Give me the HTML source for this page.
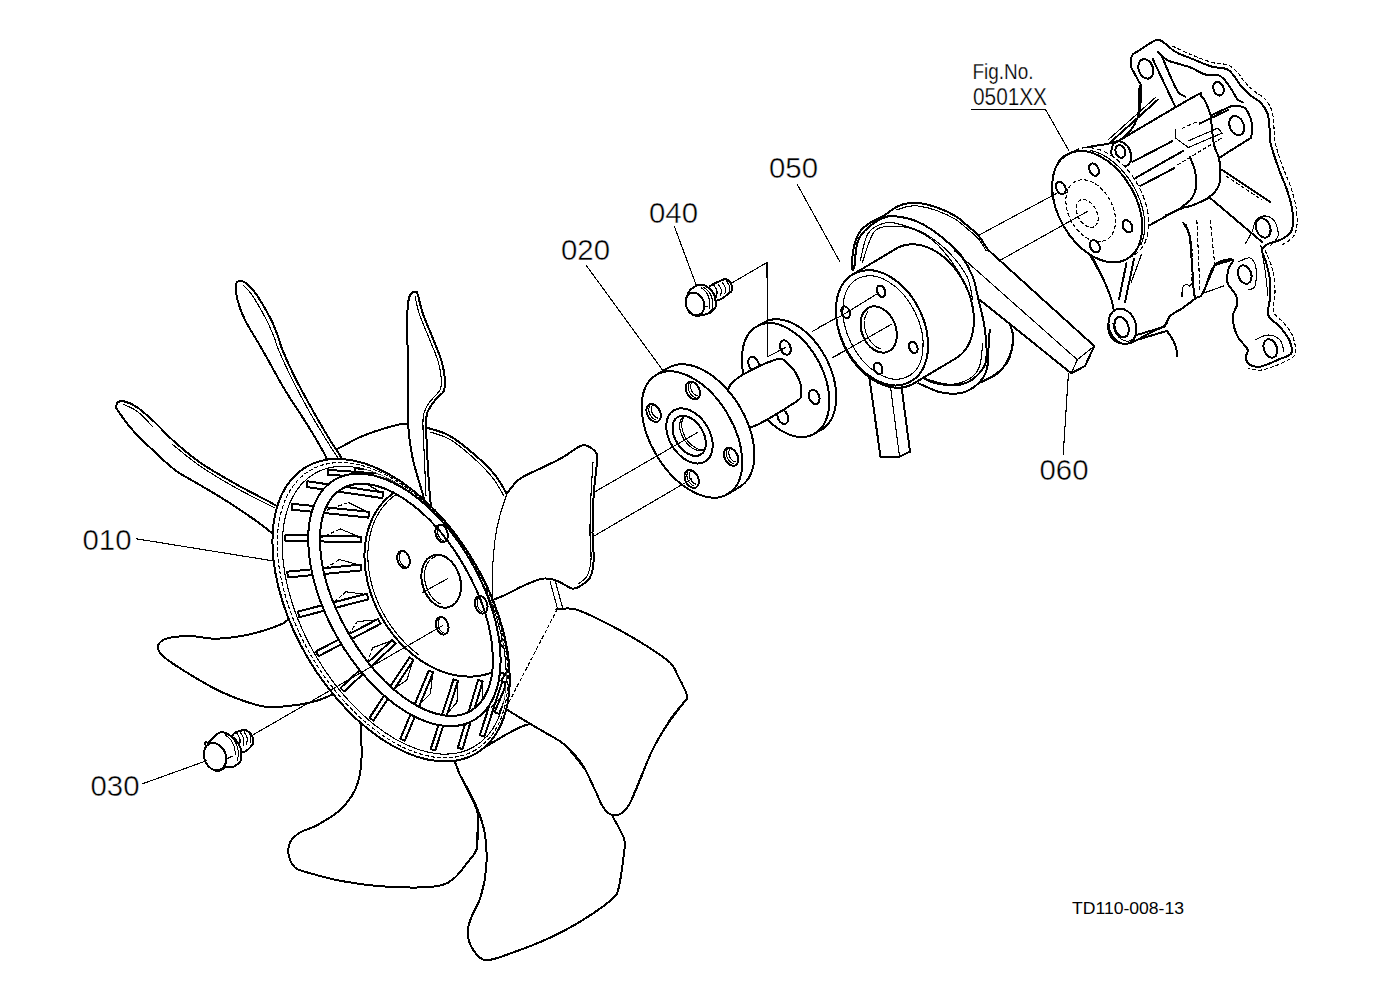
<!DOCTYPE html>
<html><head><meta charset="utf-8"><style>
html,body{margin:0;padding:0;background:#fff;width:1379px;height:1001px;overflow:hidden}
svg{display:block}
text{font-family:"Liberation Sans",sans-serif;fill:#000;stroke:#fff;stroke-width:0.45}
.l{fill:none;stroke:#000;stroke-width:2;stroke-linejoin:round;stroke-linecap:round}
.lw{fill:#fff;stroke:#000;stroke-width:2;stroke-linejoin:round;stroke-linecap:round}
.w{fill:#fff;stroke:none}
.t{fill:none;stroke:#000;stroke-width:1.1;stroke-linecap:round}
.dw{fill:#fff;stroke:#000;stroke-width:1.2;stroke-dasharray:5 2.5}
.d{fill:none;stroke:#000;stroke-width:1.1;stroke-dasharray:4 2}
</style></head><body>
<svg shape-rendering="crispEdges" width="1379" height="1001" viewBox="0 0 1379 1001">
<g id="pump">
<path class="lw" d="M1138.3 50.9C1142.2 48.3 1151.3 42 1155.2 40.4C1159.1 38.8 1159 39.6 1161.8 41.1C1164.6 42.6 1169.4 47.5 1172.2 49.6C1175 51.7 1175.4 52 1178.7 53.5C1182 55 1186.3 56.5 1191.8 58.7C1197.2 60.9 1205.5 64.8 1211.4 66.5C1217.3 68.2 1223.1 67.5 1227 69.2C1230.9 71 1232.7 74.4 1234.9 77C1237.1 79.6 1237.5 81.8 1240.1 84.8C1242.7 87.8 1247 92.2 1250.5 95.3C1254 98.3 1258.2 100.1 1261 103.1C1263.8 106.1 1266.1 109.4 1267.5 113.5C1268.9 117.6 1269.1 123.3 1269.5 127.9C1269.9 132.5 1269.3 136.5 1270.1 141C1270.8 145.5 1272.3 149.8 1274 155C1275.7 160.2 1277.8 166.2 1280 172C1282.2 177.8 1285 184 1287 190C1289 196 1291 202.3 1292 208C1293 213.7 1293.3 219.8 1293 224C1292.7 228.2 1292.2 230.3 1290 233C1287.8 235.7 1283.7 238.2 1280 240C1276.3 241.8 1271 242.3 1268 244C1265 245.7 1262.3 247 1262 250C1261.7 253 1264.7 257 1266 262C1267.3 267 1269.3 274.3 1270 280C1270.7 285.7 1270.6 290.4 1270.3 296.3C1270 302.2 1266.8 310.2 1268.4 315.3C1270 320.4 1276.3 322.6 1279.8 326.7C1283.3 330.8 1287.4 335.6 1289.3 340C1291.2 344.4 1292.8 350.1 1291.2 353.3C1289.6 356.5 1284.9 356.8 1279.8 359C1274.7 361.2 1265.8 365.6 1260.8 366.5C1255.8 367.4 1252 366.2 1249.5 364.6C1247 363 1246 359.5 1245.7 357C1245.4 354.5 1248.8 352.6 1247.6 349.5C1246.4 346.4 1241 342 1238.8 338.4C1236.6 334.8 1235.3 331.6 1234.3 327.9C1233.3 324.1 1232.3 319.9 1232.8 315.9C1233.3 311.9 1236.8 307.4 1237.3 303.9C1237.8 300.4 1237.4 298.4 1235.8 294.9C1234.2 291.4 1228.8 287.1 1227.6 282.9C1226.3 278.6 1227.4 273.3 1228.3 269.4C1229.2 265.5 1235 260.4 1232.8 259.7C1230.5 259 1219.8 259.4 1214.8 265C1209.8 270.6 1205.9 287.9 1202.8 293.4C1199.7 298.9 1199.5 295.5 1196 298C1192.5 300.5 1186.3 305.4 1182 308.4C1177.7 311.4 1172.8 313.2 1170 316C1167.2 318.8 1168.7 322.1 1165.4 324.9C1162.1 327.7 1154.7 330.5 1150 333C1145.3 335.5 1140.7 338.2 1137 340C1133.3 341.8 1131.7 343.4 1128 343.6C1124.3 343.8 1118.2 343.3 1115 341C1111.8 338.7 1109.3 334.3 1108.5 330C1107.7 325.7 1109.1 318.3 1110 315C1110.9 311.7 1114.2 314.6 1113.7 310C1113.2 305.4 1110.3 295.4 1107 287.4C1103.7 279.4 1098.5 269.9 1094 262C1089.5 254.1 1085.7 247.8 1080 240C1074.3 232.2 1064.7 223.3 1060 215C1055.3 206.7 1052 199.2 1052 190C1052 180.8 1054.5 167 1060 160C1065.5 153 1075 151.3 1085 148C1095 144.7 1111.2 145.2 1120 140C1128.8 134.8 1134.5 125.8 1138 117C1141.5 108.2 1140.9 93.4 1140.9 87.4C1141 81.4 1139.4 83.3 1138.3 80.9C1137.2 78.5 1135.6 75.5 1134.4 73.1C1133.2 70.7 1131.5 69.3 1131.1 66.5C1130.6 63.7 1130.5 58.7 1131.7 56.1C1132.9 53.5 1134.4 53.5 1138.3 50.9Z"/>
<path class="d" d="M1172.2 46C1175.5 47.5 1185.4 52.2 1192 55C1198.6 57.8 1206 60.8 1212 62.5C1218 64.2 1223.7 63.2 1228 65C1232.3 66.8 1235.3 70.3 1238 73C1240.7 75.7 1241.3 78 1244 81C1246.7 84 1250.5 88 1254 91C1257.5 94 1262 95.7 1265 99C1268 102.3 1270.5 106.2 1272 111C1273.5 115.8 1273.5 123 1274 128C1274.5 133 1274.3 136.8 1275 141C1275.7 145.2 1276.5 148.2 1278 153C1279.5 157.8 1281.8 164.2 1284 170C1286.2 175.8 1289 181.8 1291 188C1293 194.2 1295 200.8 1296 207C1297 213.2 1297.5 220 1297 225C1296.5 230 1295.5 233.7 1293 237C1290.5 240.3 1283.8 243.7 1282 245"/>
<path class="d" d="M1265 250C1266.2 253 1270.3 261.3 1272 268C1273.7 274.7 1274.7 282.7 1275 290C1275.3 297.3 1272.5 306.5 1274 312C1275.5 317.5 1280.8 318.8 1284 323C1287.2 327.2 1291.2 331.8 1293 337C1294.8 342.2 1296.5 349.8 1295 354C1293.5 358.2 1289.5 359.3 1284 362C1278.5 364.7 1268 369 1262 370C1256 371 1250.3 368.3 1248 368"/>
<path class="l" d="M1157.9 51.5C1159.4 52.9 1163.5 57.9 1167 60C1170.5 62.1 1174.6 62.6 1178.7 63.9C1182.8 65.2 1187.5 66.2 1191.8 67.9C1196.1 69.7 1200.4 73.2 1204.8 74.4C1209.2 75.6 1214.6 74.1 1217.9 75C1221.2 75.9 1222.2 77.3 1224.4 79.6C1226.6 81.9 1228.8 85.4 1231 88.7C1233.2 92 1235.5 96.9 1237.5 99.2C1239.5 101.5 1241.8 101.9 1242.7 102.4"/>
<path class="l" d="M1152.6 58.7 L1174.8 105.7"/>
<path class="l" d="M1161.8 56.1C1163.5 60.1 1169.2 73.9 1172 80C1174.8 86.1 1176.5 89.9 1178.7 92.7C1180.9 95.5 1184.2 95.9 1185.3 96.6"/>
<path class="l" d="M1138.3 117.5 L1139.6 86.1"/>
<ellipse class="l" cx="1145.8" cy="68.9" rx="10" ry="7.2" transform="rotate(70 1145.8 68.9)"/>
<ellipse class="l" cx="1218.5" cy="88.7" rx="7" ry="5" transform="rotate(70 1218.5 88.7)"/>
<path class="w" d="M1118 141.2 L1193.1 97.2 L1201 96.4 L1206 102.8 L1210.7 115.6 L1231.5 106 L1244.3 107.6 L1250.7 118.8 L1252.3 130 L1250.7 138 L1220.3 157.1 L1220.3 169.9 L1218.7 185.9 L1209.1 197.1 L1193.1 205.1 L1180.3 208.3 L1148.4 225.9 L1135 232Z"/>
<path class="l" d="M1118 141.2C1130.5 133.9 1179.3 104.7 1193.1 97.2C1206.9 89.7 1198.8 95.5 1201 96.4C1203.2 97.3 1204.4 99.6 1206 102.8C1207.6 106 1209.9 113.5 1210.7 115.6"/>
<path class="l" d="M1210.7 115.6 L1231.5 106"/>
<path class="l" d="M1231.5 106C1233.6 106.3 1241.1 105.5 1244.3 107.6C1247.5 109.7 1249.4 115.1 1250.7 118.8C1252 122.5 1252.3 126.8 1252.3 130C1252.3 133.2 1251 136.7 1250.7 138"/>
<path class="l" d="M1250.7 138 L1220.3 157.1"/>
<path class="l" d="M1210.7 115.6C1211.2 120.4 1212.6 137.4 1213.9 144.3C1215.2 151.2 1217.6 152.8 1218.7 157.1C1219.8 161.4 1220.3 165.1 1220.3 169.9C1220.3 174.7 1220.6 181.4 1218.7 185.9C1216.8 190.4 1213.4 193.9 1209.1 197.1C1204.8 200.3 1197.9 203.2 1193.1 205.1C1188.3 207 1182.4 207.8 1180.3 208.3"/>
<path class="l" d="M1189.9 157.1C1190.7 159.2 1193.6 165.1 1194.7 169.9C1195.8 174.7 1196.8 181.1 1196.3 185.9C1195.8 190.7 1193.9 195.2 1191.5 198.7C1189.1 202.2 1183.5 205.4 1181.9 206.7"/>
<path class="l" d="M1180.3 208.3 L1148.4 225.9"/>
<path class="t" d="M1166 214.7 L1209.1 198.7"/>
<ellipse class="l" cx="1236.7" cy="125.6" rx="10" ry="7" transform="rotate(68 1236.7 125.6)"/>
<path class="l" d="M1132.4 161.9 L1172.3 141.2"/>
<path class="l" d="M1135.6 177.9 L1183.5 150.7"/>
<path class="l" d="M1140.4 185.9 L1173.9 168.3"/>
<path class="d" d="M1177.1 165.1 L1221.9 138"/>
<path class="d" d="M1181.9 128.4 L1196.3 122"/>
<path class="l" d="M1199.5 123.6 L1228 110"/>
<path class="t" d="M1175.5 130 L1175.5 138 L1188.3 147.5 L1221.9 133.2 L1218 128 L1188 141"/>
<path class="l" d="M1221.9 169.9 L1270 201.9"/>
<path class="l" d="M1209.1 197.1 L1261.9 241.9"/>
<path class="d" d="M1226 176 L1262 200"/>
<path class="l" d="M1110 142.7 L1158 99.6"/>
<path class="t" d="M1108 140 L1156 97"/>
<ellipse class="lw" cx="1121.2" cy="154" rx="13" ry="9.5" transform="rotate(70 1121.2 154)"/>
<ellipse class="l" cx="1120.4" cy="151.5" rx="6.5" ry="4.8" transform="rotate(70 1120.4 151.5)"/>
<path class="l" d="M1183.4 223C1184.4 225 1188 228 1189.4 235C1190.8 242 1191.2 255 1192 265C1192.8 275 1193.6 290 1193.9 295"/>
<path class="d" d="M1186 224C1186.8 226.7 1189.9 233.2 1191 240C1192.1 246.8 1192.5 257.3 1192.5 265C1192.5 272.7 1191.2 282.5 1190.9 286"/>
<path class="l" d="M1193.9 295C1194 295.7 1196.6 296.8 1194.6 299C1192.6 301.2 1186.1 305.6 1182 308.4C1177.9 311.2 1172.8 313.2 1170 316C1167.2 318.8 1166.2 323.4 1165.4 324.9"/>
<path class="t" d="M1182 296.4C1182.1 295 1181.8 290 1182.5 288C1183.2 286 1184.8 284.7 1186 284.4C1187.2 284.1 1188.8 285.7 1189.4 286"/>
<path class="d" d="M1196.9 220 L1199.9 290.4"/>
<path class="d" d="M1210.3 220 L1214.8 265"/>
<path class="l" d="M1202.8 293.4 L1214.8 265 L1232.8 259.7"/>
<path class="t" d="M1202.8 293.4 L1223.8 285.9"/>
<path class="l" d="M1092 256C1093 258 1096 264 1098 268C1100 272 1103 278 1104 280"/>
<path class="d" d="M1104 280C1104.5 281.2 1105.8 284.1 1107 287.4C1108.2 290.7 1109.9 296.2 1111 300C1112.1 303.8 1113.2 308.3 1113.7 310"/>
<path class="l" d="M1126.4 263.4 L1119 299.4"/>
<path class="l" d="M1134 259 L1125 302.4"/>
<path class="t" d="M1141.4 254.5 L1131 283"/>
<ellipse class="lw" cx="1122.5" cy="326.3" rx="18" ry="13.5" transform="rotate(72 1122.5 326.3)"/>
<path class="t" d="M1113 323.6C1113.1 323.9 1113.1 324.7 1113.2 325.3C1113.3 325.8 1113.4 326.4 1113.5 326.9C1113.6 327.4 1113.7 328 1113.9 328.5C1114.1 329.1 1114.2 329.6 1114.4 330.1C1114.6 330.6 1114.9 331.1 1115.1 331.6C1115.3 332.1 1115.6 332.6 1115.8 333.1C1116.1 333.6 1116.4 334.1 1116.7 334.5C1117 334.9 1117.3 335.4 1117.7 335.8C1118 336.2 1118.3 336.6 1118.7 337C1119.1 337.3 1119.4 337.7 1119.8 338C1120.2 338.3 1120.6 338.6 1121 338.9C1121.4 339.2 1121.8 339.5 1122.2 339.7C1122.6 339.9 1123 340.1 1123.4 340.3C1123.8 340.5 1124.2 340.6 1124.6 340.7C1125.1 340.9 1125.5 340.9 1125.9 341C1126.3 341.1 1126.7 341.1 1127.2 341.1C1127.6 341.1 1128 341.1 1128.4 341.1C1128.8 341 1129.2 340.9 1129.6 340.8C1129.9 340.7 1130.3 340.6 1130.7 340.4C1131.1 340.3 1131.4 340.1 1131.8 339.9C1132.1 339.7 1132.4 339.4 1132.8 339.1C1133.1 338.9 1133.4 338.6 1133.7 338.3C1134 338 1134.2 337.6 1134.5 337.3C1134.8 336.9 1135 336.5 1135.2 336.1C1135.4 335.7 1135.7 335.1 1135.8 334.9"/>
<ellipse class="l" cx="1121.6" cy="327.1" rx="10.5" ry="6.8" transform="rotate(72 1121.6 327.1)"/>
<path class="l" d="M1135.4 335.4 L1165.4 326.4"/>
<path class="l" d="M1137 339.9 L1166.9 330.9"/>
<path class="l" d="M1166.9 330.9C1167.9 332.4 1171.4 337.2 1172.9 339.9C1174.4 342.6 1175.2 344.6 1175.9 347.3C1176.7 350 1177.2 354.8 1177.4 356.3"/>
<path class="t" d="M1245 244C1246.2 242 1250.2 236 1252 232C1253.8 228 1253.7 222.7 1256 220C1258.3 217.3 1262.8 215.7 1266 216C1269.2 216.3 1273 218.7 1275 222C1277 225.3 1278.8 232 1278 236C1277.2 240 1271.3 244.3 1270 246"/>
<ellipse class="l" cx="1263.2" cy="228" rx="10" ry="7" transform="rotate(70 1263.2 228)"/>
<ellipse class="l" cx="1244.7" cy="274.5" rx="9.5" ry="6.5" transform="rotate(70 1244.7 274.5)"/>
<path class="t" d="M1238 262C1240 261.3 1247 257 1250 258C1253 259 1255.2 263.3 1256 268C1256.8 272.7 1256.3 282.3 1255 286C1253.7 289.7 1249.2 289.3 1248 290"/>
<ellipse class="l" cx="1270.4" cy="348.5" rx="9.5" ry="6.5" transform="rotate(70 1270.4 348.5)"/>
<path class="t" d="M1255 340C1257.2 339.2 1263.8 335 1268 335C1272.2 335 1277.3 337.2 1280 340C1282.7 342.8 1283.3 350 1284 352"/>
<path class="t" d="M1260.8 245C1261.5 249.2 1263.8 261.5 1265 270C1266.2 278.5 1267.5 291.7 1268 296"/>
</g>
<path class="dw" d="M1052.2 186.1 L1052.3 182.5 L1052.7 179.1 L1053.3 175.8 L1054.1 172.7 L1055 169.7 L1056.2 166.9 L1057.7 164.2 L1059.2 161.8 L1061 159.7 L1063 157.7 L1065.1 156 L1067.4 154.5 L1073.9 151 L1076.3 149.8 L1078.9 148.8 L1081.5 148.2 L1084.3 147.7 L1087.2 147.6 L1090.2 147.7 L1093.2 148.1 L1096.3 148.8 L1099.4 149.7 L1102.5 150.8 L1105.7 152.3 L1108.8 154 L1111.9 155.9 L1115 158.1 L1118 160.4 L1120.9 163 L1123.8 165.8 L1126.5 168.8 L1129.2 171.9 L1131.7 175.2 L1134.1 178.6 L1136.3 182.1 L1138.4 185.8 L1140.3 189.5 L1142 193.3 L1143.6 197.1 L1145 201 L1146.1 204.9 L1147 208.8 L1147.8 212.6 L1148.3 216.4 L1148.6 220.2 L1148.7 223.8 L1148.5 227.4 L1148.2 230.8 L1147.6 234.1 L1146.8 237.2 L1145.8 240.2 L1144.7 243 L1143.2 245.7 L1141.7 248.1 L1139.9 250.2 L1137.9 252.2 L1135.8 253.9 L1133.5 255.4 L1127 258.9 L1124.6 260.1 L1122 261.1 L1119.4 261.7 L1116.6 262.2 L1113.7 262.3 L1110.7 262.2 L1107.7 261.8 L1104.6 261.1 L1101.5 260.2 L1098.4 259.1 L1095.2 257.6 L1092.1 255.9 L1089 254 L1086 251.8 L1082.9 249.5 L1080 246.9 L1077.1 244.1 L1074.4 241.1 L1071.7 238 L1069.2 234.7 L1066.8 231.3 L1064.6 227.8 L1062.5 224.1 L1060.6 220.4 L1058.8 216.6 L1057.3 212.8 L1056 208.9 L1054.8 205 L1053.8 201.1 L1053.1 197.3 L1052.6 193.5 L1052.3 189.8Z"/>
<ellipse class="lw" cx="1097.2" cy="206.7" rx="60.1" ry="38.8" transform="rotate(60.2 1097.2 206.7)"/>
<path class="t" d="M1141 244.5C1141.2 243.7 1142.2 241.5 1142.7 239.9C1143.2 238.3 1143.6 236.7 1143.9 235C1144.2 233.3 1144.4 231.5 1144.5 229.7C1144.7 227.9 1144.7 226 1144.7 224.1C1144.6 222.2 1144.5 220.2 1144.3 218.3C1144.1 216.3 1143.7 214.3 1143.4 212.3C1143 210.3 1142.5 208.3 1141.9 206.3C1141.3 204.2 1140.7 202.2 1140 200.2C1139.2 198.2 1138.4 196.2 1137.5 194.2C1136.6 192.2 1135.7 190.3 1134.7 188.3C1133.6 186.4 1132.5 184.5 1131.4 182.7C1130.2 180.8 1129 179 1127.7 177.3C1126.4 175.5 1125.1 173.8 1123.7 172.2C1122.3 170.6 1120.9 169 1119.4 167.5C1117.9 166.1 1116.4 164.6 1114.9 163.3C1113.4 162 1111.8 160.8 1110.2 159.6C1108.6 158.4 1107 157.4 1105.4 156.4C1103.7 155.5 1102.1 154.6 1100.5 153.8C1098.8 153.1 1097.2 152.4 1095.6 151.8C1093.9 151.3 1091.5 150.7 1090.7 150.5"/>
<ellipse class="d" cx="1090.7" cy="210.7" rx="33" ry="22" transform="rotate(62 1090.7 210.7)"/>
<ellipse class="d" cx="1087.2" cy="213.5" rx="15" ry="9.5" transform="rotate(62 1087.2 213.5)"/>
<ellipse class="l" cx="1094" cy="169.6" rx="6.5" ry="4.5" transform="rotate(62 1094 169.6)"/>
<ellipse class="l" cx="1060.8" cy="188" rx="6.5" ry="4.5" transform="rotate(62 1060.8 188)"/>
<ellipse class="l" cx="1127.5" cy="226.3" rx="6.5" ry="4.5" transform="rotate(62 1127.5 226.3)"/>
<ellipse class="l" cx="1094.8" cy="246.3" rx="6.5" ry="4.5" transform="rotate(62 1094.8 246.3)"/>
<path class="t" d="M976.2 236.6 L1058 192.6"/>
<path class="t" d="M999.2 260.8 L1087.3 211.5"/>
<g id="pulley">
<path class="lw" d="M987.9 253C989.9 256.7 996.5 263.8 1000 275C1003.5 286.2 1006.7 309.8 1008.9 320.1C1011.1 330.4 1013.1 330.6 1013.1 336.9C1013.1 343.2 1011.4 351.9 1008.9 357.9C1006.4 363.8 1002.6 368.8 998.4 372.6C994.2 376.5 990.1 378.4 983.7 381C977.3 383.6 967.3 387.3 960 388C952.7 388.7 943.3 385.5 940 385"/>
<path class="t" d="M1013.5 344C1012.6 347 1011.2 357.1 1007.9 362.2C1004.6 367.3 998.6 371.5 993.9 374.8C989.2 378.1 982.2 380.6 979.9 381.8"/>
<path class="lw" d="M989.7 330C989.5 333.5 988.8 344.5 988.3 351C987.8 357.5 988.3 364.1 986.9 369.2C985.5 374.3 983.4 378.1 979.9 381.8C976.4 385.5 970.6 389.6 965.9 391.6C961.2 393.6 956.6 393.7 951.9 393.7C947.2 393.7 943.5 393.4 937.9 391.6C932.3 389.9 921.6 384.6 918.4 383.2"/>
<path class="t" d="M982.7 344C982.2 347.5 981.5 359.6 979.9 365C978.3 370.4 976.4 373.2 972.9 376.2C969.4 379.2 963.6 381.9 958.9 383.2C954.2 384.5 950.3 384.6 944.9 383.9C939.5 383.2 929.7 379.8 926.7 379"/>
<path class="lw" d="M852 269.3C852.2 266.2 852 256.7 853.1 250.7C854.2 244.7 856.4 237.8 858.9 233.3C861.4 228.9 864.1 226.9 868.2 224C872.3 221.1 878.5 218.8 883.3 215.9C888.1 213 893 208.7 897.2 206.6C901.5 204.5 904.9 203.7 908.8 203.1C912.7 202.5 915.6 202.3 920.4 203.1C925.2 203.9 932 205.7 937.8 207.8C943.6 209.9 950.4 213 955.2 215.9C960 218.8 962.9 221.9 966.8 225.2C970.7 228.5 974.9 231.5 978.4 235.6C981.9 239.7 986.2 247.2 987.7 249.5L1094.3 346.1L1085 366L1071.3 373.3L980.8 300.7L978.4 299.4C977.4 295.5 975.5 283.5 972.6 276.2C969.7 268.9 964.9 260.7 961 255.3C957.1 249.9 954.2 247.9 949.4 243.7C944.6 239.4 937.8 233.7 932 229.8C926.2 225.9 920.4 222.7 914.6 220.5C908.8 218.3 902 217.1 897.2 216.5C892.4 215.9 890.4 215.2 885.6 217C880.8 218.8 872.8 223.4 868.2 227.5C863.6 231.6 860.1 234.8 857.8 241.4C855.5 248 854.9 262.6 854.3 266.9Z"/>
<path class="t" d="M897 209.8C899 209.2 904.9 206.9 908.8 206.3C912.7 205.7 915.6 205.5 920.4 206.3C925.2 207.1 932 208.8 937.8 211C943.6 213.2 950.4 216.3 955.2 219.2C960 222.1 962.9 225.1 966.8 228.4C970.7 231.7 975.2 235.1 978.4 238.8C981.6 242.5 984.7 248.6 986 250.5"/>
<path class="t" d="M954.6 250.9 L1077.3 359.7"/>
<path class="t" d="M1094.3 346.1 L1077.3 359.7 L1071.3 373.3"/>
<path class="l" d="M852 269.3C852.4 268.9 853.3 271.5 854.3 266.9C855.3 262.2 855.5 248 857.8 241.4C860.1 234.8 863.6 231.6 868.2 227.5C872.8 223.4 880.8 218.8 885.6 217C890.4 215.2 892.4 215.9 897.2 216.5C902 217.1 908.8 218.3 914.6 220.5C920.4 222.7 926.2 225.9 932 229.8C937.8 233.7 944.6 239.4 949.4 243.7C954.2 247.9 957.1 249.9 961 255.3C964.9 260.7 969.7 268.9 972.6 276.2C975.5 283.5 976.3 290.4 978.4 299.4C980.5 308.4 983.8 319.6 985 330C986.2 340.4 987.8 354 985.8 362.1C983.8 370.2 978.1 375 973.2 378.9C968.3 382.8 962.7 384.5 956.4 385.2C950.1 385.9 941.3 384.5 935.4 383.1C929.5 381.7 923.2 377.9 920.7 376.8"/>
<path class="t" d="M860.1 261.1C861.5 256.5 864 239.7 868.2 233.3C872.5 226.9 879.8 224.2 885.6 222.8C891.4 221.5 896.2 223.3 903 225.2C909.8 227.1 918.5 229.8 926.2 234.4C933.9 239 942.6 246 949.4 253C956.2 260 962.9 268.5 966.8 276.2C970.7 283.9 971.6 295.5 972.6 299.4"/>
<path class="t" d="M862.4 262.3C864.3 257.3 869.2 238.1 874 232.1C878.8 226.1 884.6 226.7 891.4 226.3C898.2 225.9 906.9 226.7 914.6 229.8C922.3 232.9 930.1 237.2 937.8 244.9C945.5 252.6 956.2 267.1 961 276.2C965.8 285.3 965.8 295.5 966.8 299.4"/>
<path class="lw" d="M868.7 373.4 L880.6 457.3 L899.5 456.6 L910 451.7 L901.6 387.4 L890.4 386Z"/>
<path class="t" d="M890.4 386 L899.5 456.6"/>
<path class="lw" d="M836.1 313.4 L836.1 309.4 L836.4 305.6 L836.9 301.8 L837.6 298.2 L838.5 294.7 L839.7 291.4 L841 288.3 L842.6 285.4 L844.4 282.6 L846.4 280.1 L848.5 277.9 L850.9 275.9 L853.4 274.1 L895.4 249.1 L898 247.6 L900.8 246.4 L903.7 245.4 L906.7 244.8 L909.8 244.4 L913 244.3 L916.2 244.5 L919.5 245 L922.9 245.8 L926.2 246.8 L929.6 248.2 L932.9 249.8 L936.2 251.6 L939.4 253.8 L942.6 256.1 L945.7 258.7 L948.7 261.5 L951.6 264.5 L954.3 267.7 L957 271.1 L959.5 274.6 L961.8 278.3 L963.9 282.1 L965.9 286 L967.6 290 L969.2 294 L970.5 298.1 L971.6 302.2 L972.5 306.4 L973.2 310.5 L973.7 314.6 L973.9 318.6 L973.9 322.6 L973.6 326.4 L973.1 330.2 L972.4 333.8 L971.5 337.3 L970.3 340.6 L969 343.7 L967.4 346.6 L965.6 349.4 L963.6 351.9 L961.5 354.1 L959.1 356.1 L956.6 357.9 L914.6 382.9 L912 384.4 L909.2 385.6 L906.3 386.6 L903.3 387.2 L900.2 387.6 L897 387.7 L893.8 387.5 L890.5 387 L887.1 386.2 L883.8 385.2 L880.4 383.8 L877.1 382.2 L873.8 380.4 L870.6 378.2 L867.4 375.9 L864.3 373.3 L861.3 370.5 L858.4 367.5 L855.7 364.3 L853 360.9 L850.5 357.4 L848.2 353.7 L846.1 349.9 L844.1 346 L842.4 342 L840.8 338 L839.5 333.9 L838.4 329.8 L837.5 325.6 L836.8 321.5 L836.3 317.4Z"/>
<ellipse class="lw" cx="882" cy="327.8" rx="60.9" ry="41.6" transform="rotate(63.4 882 327.8)"/>
<ellipse class="t" cx="883" cy="327.5" rx="55" ry="35.5" transform="rotate(63.4 883 327.5)"/>
<ellipse class="l" cx="878.7" cy="329.5" rx="24" ry="17" transform="rotate(68 878.7 329.5)"/>
<path class="t" d="M867.8 311.9C867.7 312.2 867.1 312.8 866.8 313.3C866.5 313.8 866.3 314.3 866 314.9C865.7 315.4 865.5 316 865.3 316.6C865.1 317.2 865 317.8 864.8 318.5C864.7 319.1 864.6 319.8 864.5 320.5C864.4 321.1 864.4 321.8 864.3 322.5C864.3 323.3 864.3 324 864.4 324.7C864.4 325.4 864.5 326.2 864.6 326.9C864.7 327.7 864.8 328.4 865 329.1C865.1 329.9 865.3 330.6 865.6 331.4C865.8 332.1 866 332.8 866.3 333.6C866.6 334.3 866.9 335 867.2 335.7C867.5 336.4 867.9 337.1 868.2 337.8C868.6 338.4 869 339.1 869.4 339.7C869.8 340.4 870.3 341 870.7 341.5C871.2 342.1 871.7 342.7 872.2 343.2C872.6 343.8 873.2 344.3 873.7 344.7C874.2 345.2 874.7 345.7 875.2 346.1C875.8 346.5 876.3 346.8 876.9 347.2C877.4 347.5 878 347.8 878.6 348.1C879.1 348.4 880 348.7 880.3 348.8"/>
<ellipse class="l" cx="881" cy="291.3" rx="6" ry="4" transform="rotate(68 881 291.3)"/>
<ellipse class="l" cx="845.7" cy="312.2" rx="6" ry="4" transform="rotate(68 845.7 312.2)"/>
<ellipse class="l" cx="913.3" cy="347.4" rx="6" ry="4" transform="rotate(68 913.3 347.4)"/>
<ellipse class="l" cx="878.2" cy="368.4" rx="6" ry="4" transform="rotate(68 878.2 368.4)"/>
<path class="t" d="M841 316 L878.8 292.8"/>
<path class="t" d="M832.6 357.9 L891.4 324.3"/>
<path class="t" d="M820 326.4 L841 316"/>
</g>
<g id="spacer">
<path class="t" d="M812.4 331.5 L836 318"/>
<path class="t" d="M833.3 356.9 L845 350.5"/>
<path class="lw" d="M741.9 360.3 L742 356.6 L742.2 353.1 L742.7 349.7 L743.3 346.4 L744.2 343.3 L745.3 340.3 L746.5 337.6 L748 335.1 L749.6 332.8 L751.5 330.7 L753.4 328.8 L755.6 327.2 L757.9 325.9 L764.9 321.9 L767.3 320.8 L769.8 320 L772.5 319.5 L775.2 319.2 L778.1 319.2 L781 319.6 L783.9 320.1 L787 321 L790 322.1 L793 323.5 L796.1 325.1 L799.1 327 L802.1 329.1 L805.1 331.5 L808 334 L810.8 336.8 L813.5 339.8 L816.1 342.9 L818.6 346.2 L821 349.7 L823.2 353.3 L825.4 356.9 L827.3 360.7 L829 364.6 L830.6 368.5 L832 372.5 L833.3 376.4 L834.3 380.4 L835.1 384.4 L835.7 388.2 L836.1 392.1 L836.3 395.9 L836.2 399.6 L836 403.1 L835.5 406.5 L834.9 409.8 L834 412.9 L832.9 415.9 L831.7 418.6 L830.2 421.1 L828.6 423.4 L826.8 425.5 L824.8 427.4 L822.6 429 L820.3 430.3 L813.3 434.3 L810.9 435.4 L808.4 436.2 L805.7 436.7 L803 437 L800.1 436.9 L797.2 436.6 L794.3 436.1 L791.2 435.2 L788.2 434.1 L785.2 432.7 L782.1 431.1 L779.1 429.2 L776.1 427.1 L773.1 424.7 L770.2 422.2 L767.4 419.4 L764.7 416.4 L762.1 413.3 L759.6 410 L757.2 406.5 L755 402.9 L752.9 399.2 L750.9 395.5 L749.1 391.6 L747.6 387.7 L746.1 383.7 L744.9 379.8 L743.9 375.8 L743.1 371.9 L742.5 367.9 L742.1 364.1Z"/>
<ellipse class="lw" cx="785.6" cy="380.1" rx="60.9" ry="37.9" transform="rotate(62.9 785.6 380.1)"/>
<ellipse class="l" cx="785.4" cy="347.5" rx="7.5" ry="5" transform="rotate(68 785.4 347.5)"/>
<ellipse class="l" cx="753.6" cy="364" rx="7.5" ry="5" transform="rotate(68 753.6 364)"/>
<ellipse class="l" cx="814.2" cy="397" rx="7.5" ry="5" transform="rotate(68 814.2 397)"/>
<ellipse class="l" cx="782.8" cy="416.8" rx="7.5" ry="5" transform="rotate(68 782.8 416.8)"/>
<path class="lw" d="M730 385.4C736.6 375.4 764.9 363.1 774.9 359.9C784.9 356.6 785.9 362.6 789.9 365.9C793.9 369.1 797 374.9 798.9 379.4C800.8 383.9 801.6 389.2 801.1 392.9C800.6 396.6 804.2 396.1 795.9 401.8C787.5 407.5 761.1 424.3 751 427.3C740.9 430.3 738.5 427 735 420C731.5 413 723.4 395.4 730 385.4Z"/>
</g>
<g id="b040">
<path class="t" d="M731.5 283.2 L767 262.5 L767.4 356.9 L785.4 347.5"/>
<path class="lw" d="M709 287.6C710.2 284.1 720.6 281 723.5 279.6C726.4 278.2 725.2 278.6 726.4 279.2C727.6 279.8 729.8 281.7 730.8 283.2C731.8 284.7 732.2 286.9 732.2 288.3C732.2 289.8 733.4 289.8 730.8 291.9C728.1 293.9 719.9 301.3 716.3 300.6C712.7 299.9 707.8 291.1 709 287.6Z"/>
<path class="t" d="M714 285.5C714.5 286.4 716.6 289 717 291C717.4 293 716.6 296.4 716.5 297.5"/>
<path class="t" d="M718.2 284C718.7 284.9 720.8 287.6 721.2 289.5C721.6 291.4 720.8 294.7 720.7 295.7"/>
<path class="t" d="M722.4 282.5C722.9 283.4 725 286.1 725.4 288C725.8 289.9 725 292.9 724.9 293.9"/>
<path class="t" d="M726.6 281C727.1 281.9 729.2 284.6 729.6 286.5C730 288.4 729.2 291.2 729.1 292.1"/>
<path class="lw" d="M688 293.4C689.5 289.3 694.1 286.8 696.7 285.4C699.4 284 701.9 284.5 703.9 285C705.9 285.5 707.3 286.8 709 288.3C710.7 289.8 712.9 291.9 714 294C715.1 296.1 715.2 298.4 715.5 300.6C715.8 302.8 716.1 305.3 715.5 307.1C714.9 308.9 713.2 310.4 711.9 311.5C710.6 312.6 709.3 313.1 707.6 313.7C705.9 314.3 703.9 314.8 701.8 315.1C699.7 315.4 697.3 316.4 695 315.5C692.7 314.6 689.2 313.7 688 310C686.8 306.3 686.5 297.5 688 293.4Z"/>
<path class="t" d="M704 287.5C704.9 288.3 708.1 290.4 709.5 292.5C710.9 294.6 712 297.4 712.5 300C713 302.6 713.1 306 712.5 308C711.9 310 709.6 311.3 709 312"/>
<path class="t" d="M701.5 288C702.3 288.8 705.2 290.5 706.5 292.5C707.8 294.5 709 297.4 709.5 300C710 302.6 709.5 306.7 709.5 308"/>
<ellipse class="lw" cx="695" cy="304" rx="11.7" ry="9" transform="rotate(70 695 304)"/>
<path class="t" d="M703.5 307.5 L708 306"/>
</g>
<g id="f020">
<path class="lw" d="M641.7 406.6 L641.9 402.7 L642.2 399 L642.9 395.4 L643.8 392.1 L644.9 388.9 L646.2 386 L647.8 383.3 L649.5 380.9 L651.5 378.7 L653.7 376.8 L656 375.1 L668.1 367.9 L670.7 366.6 L673.4 365.6 L676.2 364.8 L679.2 364.4 L682.3 364.2 L685.6 364.4 L688.9 364.9 L692.2 365.7 L695.7 366.8 L699.2 368.1 L702.7 369.8 L706.2 371.8 L709.7 374 L713.1 376.4 L716.6 379.2 L719.9 382.1 L723.2 385.3 L726.4 388.7 L729.5 392.3 L732.5 396 L735.3 399.9 L738 403.9 L740.5 408.1 L742.8 412.3 L745 416.6 L746.9 421 L748.6 425.4 L750.2 429.8 L751.5 434.2 L752.5 438.5 L753.4 442.8 L753.9 447.1 L754.3 451.2 L754.4 455.2 L754.2 459.1 L753.9 462.8 L753.2 466.4 L752.4 469.7 L751.2 472.9 L749.9 475.8 L748.4 478.5 L746.6 480.9 L744.6 483.1 L742.4 485 L740 486.7 L728 493.9 L725.4 495.2 L722.7 496.2 L719.9 497 L716.9 497.4 L713.8 497.6 L710.5 497.4 L707.2 496.9 L703.9 496.1 L700.4 495 L696.9 493.7 L693.4 492 L689.9 490 L686.4 487.8 L683 485.4 L679.5 482.6 L676.2 479.7 L672.9 476.5 L669.7 473.1 L666.6 469.5 L663.6 465.8 L660.8 461.9 L658.1 457.9 L655.6 453.7 L653.3 449.5 L651.1 445.2 L649.2 440.8 L647.5 436.4 L645.9 432 L644.6 427.6 L643.6 423.3 L642.8 419 L642.2 414.7 L641.8 410.6Z"/>
<ellipse class="lw" cx="692" cy="434.5" rx="69.4" ry="41.1" transform="rotate(58.8 692 434.5)"/>
<ellipse class="l" cx="689.5" cy="435.9" rx="30" ry="20" transform="rotate(58 689.5 435.9)"/>
<ellipse class="l" cx="689.2" cy="435.8" rx="22" ry="14" transform="rotate(58 689.2 435.8)"/>
<path class="t" d="M682.6 417C682.5 417.2 682 417.7 681.8 418.1C681.5 418.5 681.2 419 681 419.4C680.8 419.9 680.6 420.4 680.4 420.9C680.3 421.4 680.1 421.9 680 422.5C679.9 423 679.8 423.6 679.8 424.2C679.7 424.7 679.7 425.3 679.7 425.9C679.7 426.6 679.8 427.2 679.8 427.8C679.9 428.5 680 429.1 680.1 429.7C680.2 430.4 680.4 431 680.6 431.7C680.7 432.4 681 433 681.2 433.7C681.4 434.3 681.7 435 682 435.6C682.3 436.3 682.6 436.9 682.9 437.5C683.2 438.2 683.6 438.8 684 439.4C684.4 440 684.8 440.6 685.2 441.2C685.6 441.7 686 442.3 686.5 442.8C686.9 443.4 687.4 443.9 687.9 444.4C688.4 444.9 688.9 445.4 689.4 445.8C689.9 446.3 690.4 446.7 690.9 447.1C691.5 447.5 692 447.9 692.6 448.2C693.1 448.5 693.6 448.8 694.2 449.1C694.7 449.4 695.3 449.6 695.8 449.8C696.4 450.1 696.9 450.2 697.5 450.4C698 450.5 698.5 450.6 699.1 450.7C699.6 450.8 700.1 450.8 700.6 450.8C701.1 450.8 701.6 450.8 702.1 450.7C702.6 450.6 703.3 450.5 703.5 450.4"/>
<path class="t" d="M683.3 417.9C683.2 418.1 682.8 418.8 682.6 419.3C682.4 419.8 682.3 420.3 682.2 420.8C682 421.3 681.9 421.9 681.9 422.4C681.8 423 681.7 423.6 681.7 424.2C681.7 424.8 681.7 425.4 681.8 426C681.8 426.6 681.9 427.3 682 427.9C682.1 428.5 682.2 429.2 682.3 429.8C682.5 430.5 682.7 431.1 682.9 431.8C683.1 432.4 683.3 433.1 683.6 433.7C683.8 434.3 684.1 435 684.4 435.6C684.7 436.2 685.1 436.9 685.4 437.5C685.8 438.1 686.2 438.7 686.6 439.3C686.9 439.9 687.4 440.4 687.8 441C688.2 441.5 688.7 442.1 689.1 442.6C689.6 443.1 690.1 443.6 690.6 444.1C691.1 444.6 691.6 445 692.1 445.4C692.6 445.8 693.1 446.2 693.7 446.6C694.2 447 694.7 447.3 695.3 447.6C695.8 447.9 696.3 448.2 696.9 448.4C697.4 448.7 698 448.9 698.5 449.1C699 449.3 699.6 449.4 700.1 449.5C700.6 449.6 701.2 449.7 701.7 449.8C702.2 449.8 702.9 449.8 703.2 449.8"/>
<ellipse class="l" cx="692.9" cy="390.5" rx="9.5" ry="6.5" transform="rotate(62 692.9 390.5)"/>
<path class="t" d="M689 383.5C688.9 383.6 688.8 383.9 688.7 384.1C688.6 384.3 688.5 384.5 688.4 384.7C688.4 385 688.3 385.2 688.3 385.4C688.2 385.7 688.2 385.9 688.1 386.2C688.1 386.4 688.1 386.7 688.1 387C688.1 387.2 688.1 387.5 688.2 387.8C688.2 388.1 688.2 388.4 688.3 388.6C688.3 388.9 688.4 389.2 688.5 389.5C688.5 389.8 688.6 390.1 688.7 390.4C688.8 390.6 688.9 390.9 689 391.2C689.1 391.5 689.3 391.8 689.4 392C689.6 392.3 689.7 392.6 689.9 392.8C690 393.1 690.2 393.4 690.4 393.6C690.5 393.9 690.7 394.1 690.9 394.3C691.1 394.6 691.3 394.8 691.5 395C691.7 395.2 691.9 395.4 692.1 395.6C692.3 395.8 692.5 396 692.7 396.1C693 396.3 693.2 396.5 693.4 396.6C693.6 396.7 693.8 396.9 694.1 397C694.3 397.1 694.5 397.2 694.8 397.3C695 397.4 695.3 397.5 695.4 397.5"/>
<path class="t" d="M691.4 383.3C691.3 383.4 691.2 383.6 691.1 383.8C691 384 690.9 384.2 690.9 384.4C690.8 384.6 690.7 384.8 690.7 385C690.6 385.2 690.6 385.4 690.6 385.7C690.6 385.9 690.6 386.1 690.6 386.4C690.6 386.6 690.6 386.8 690.6 387.1C690.6 387.3 690.6 387.6 690.7 387.8C690.7 388.1 690.8 388.3 690.8 388.6C690.9 388.8 691 389.1 691.1 389.3C691.1 389.6 691.2 389.8 691.3 390.1C691.4 390.3 691.5 390.6 691.7 390.8C691.8 391.1 691.9 391.3 692.1 391.5C692.2 391.8 692.3 392 692.5 392.2C692.7 392.4 692.8 392.6 693 392.8C693.1 393.1 693.3 393.2 693.5 393.4C693.7 393.6 693.9 393.8 694.1 394C694.2 394.1 694.4 394.3 694.6 394.4C694.8 394.6 695 394.7 695.2 394.8C695.4 395 695.6 395.1 695.8 395.2C696 395.3 696.2 395.4 696.4 395.4C696.6 395.5 696.9 395.6 697 395.6"/>
<ellipse class="l" cx="653.6" cy="413" rx="9.5" ry="6.5" transform="rotate(62 653.6 413)"/>
<path class="t" d="M649.7 406C649.6 406.1 649.5 406.4 649.4 406.6C649.3 406.8 649.2 407 649.1 407.2C649.1 407.5 649 407.7 649 407.9C648.9 408.2 648.9 408.4 648.8 408.7C648.8 408.9 648.8 409.2 648.8 409.5C648.8 409.7 648.8 410 648.9 410.3C648.9 410.6 648.9 410.9 649 411.1C649 411.4 649.1 411.7 649.2 412C649.2 412.3 649.3 412.6 649.4 412.9C649.5 413.1 649.6 413.4 649.7 413.7C649.8 414 650 414.3 650.1 414.5C650.3 414.8 650.4 415.1 650.6 415.3C650.7 415.6 650.9 415.9 651.1 416.1C651.2 416.4 651.4 416.6 651.6 416.8C651.8 417.1 652 417.3 652.2 417.5C652.4 417.7 652.6 417.9 652.8 418.1C653 418.3 653.2 418.5 653.4 418.6C653.7 418.8 653.9 419 654.1 419.1C654.3 419.2 654.5 419.4 654.8 419.5C655 419.6 655.2 419.7 655.5 419.8C655.7 419.9 656 420 656.1 420"/>
<path class="t" d="M652.1 405.8C652 405.9 651.9 406.1 651.8 406.3C651.7 406.5 651.6 406.7 651.6 406.9C651.5 407.1 651.4 407.3 651.4 407.5C651.3 407.7 651.3 407.9 651.3 408.2C651.3 408.4 651.3 408.6 651.3 408.9C651.3 409.1 651.3 409.3 651.3 409.6C651.3 409.8 651.3 410.1 651.4 410.3C651.4 410.6 651.5 410.8 651.5 411.1C651.6 411.3 651.7 411.6 651.8 411.8C651.8 412.1 651.9 412.3 652 412.6C652.1 412.8 652.2 413.1 652.4 413.3C652.5 413.6 652.6 413.8 652.8 414C652.9 414.3 653 414.5 653.2 414.7C653.4 414.9 653.5 415.1 653.7 415.3C653.8 415.6 654 415.7 654.2 415.9C654.4 416.1 654.6 416.3 654.8 416.5C654.9 416.6 655.1 416.8 655.3 416.9C655.5 417.1 655.7 417.2 655.9 417.3C656.1 417.5 656.3 417.6 656.5 417.7C656.7 417.8 656.9 417.9 657.1 417.9C657.3 418 657.6 418.1 657.7 418.1"/>
<ellipse class="l" cx="731.1" cy="456.8" rx="9.5" ry="6.5" transform="rotate(62 731.1 456.8)"/>
<path class="t" d="M727.2 449.8C727.1 449.9 727 450.2 726.9 450.4C726.8 450.6 726.7 450.8 726.6 451C726.6 451.3 726.5 451.5 726.5 451.7C726.4 452 726.4 452.2 726.3 452.5C726.3 452.7 726.3 453 726.3 453.3C726.3 453.5 726.3 453.8 726.4 454.1C726.4 454.4 726.4 454.7 726.5 454.9C726.5 455.2 726.6 455.5 726.7 455.8C726.7 456.1 726.8 456.4 726.9 456.7C727 456.9 727.1 457.2 727.2 457.5C727.3 457.8 727.5 458.1 727.6 458.3C727.8 458.6 727.9 458.9 728.1 459.1C728.2 459.4 728.4 459.7 728.6 459.9C728.7 460.2 728.9 460.4 729.1 460.6C729.3 460.9 729.5 461.1 729.7 461.3C729.9 461.5 730.1 461.7 730.3 461.9C730.5 462.1 730.7 462.3 730.9 462.4C731.2 462.6 731.4 462.8 731.6 462.9C731.8 463 732 463.2 732.3 463.3C732.5 463.4 732.7 463.5 733 463.6C733.2 463.7 733.5 463.8 733.6 463.8"/>
<path class="t" d="M729.6 449.6C729.5 449.7 729.4 449.9 729.3 450.1C729.2 450.3 729.1 450.5 729.1 450.7C729 450.9 728.9 451.1 728.9 451.3C728.8 451.5 728.8 451.7 728.8 452C728.8 452.2 728.8 452.4 728.8 452.7C728.8 452.9 728.8 453.1 728.8 453.4C728.8 453.6 728.8 453.9 728.9 454.1C728.9 454.4 729 454.6 729 454.9C729.1 455.1 729.2 455.4 729.3 455.6C729.3 455.9 729.4 456.1 729.5 456.4C729.6 456.6 729.7 456.9 729.9 457.1C730 457.4 730.1 457.6 730.3 457.8C730.4 458.1 730.5 458.3 730.7 458.5C730.9 458.7 731 458.9 731.2 459.1C731.3 459.4 731.5 459.5 731.7 459.7C731.9 459.9 732.1 460.1 732.3 460.3C732.4 460.4 732.6 460.6 732.8 460.7C733 460.9 733.2 461 733.4 461.1C733.6 461.3 733.8 461.4 734 461.5C734.2 461.6 734.4 461.7 734.6 461.7C734.8 461.8 735.1 461.9 735.2 461.9"/>
<ellipse class="l" cx="691.7" cy="479" rx="9.5" ry="6.5" transform="rotate(62 691.7 479)"/>
<path class="t" d="M687.8 472C687.7 472.1 687.6 472.4 687.5 472.6C687.4 472.8 687.3 473 687.2 473.2C687.2 473.5 687.1 473.7 687.1 473.9C687 474.2 687 474.4 686.9 474.7C686.9 474.9 686.9 475.2 686.9 475.5C686.9 475.7 686.9 476 687 476.3C687 476.6 687 476.9 687.1 477.1C687.1 477.4 687.2 477.7 687.3 478C687.3 478.3 687.4 478.6 687.5 478.9C687.6 479.1 687.7 479.4 687.8 479.7C687.9 480 688.1 480.3 688.2 480.5C688.4 480.8 688.5 481.1 688.7 481.3C688.8 481.6 689 481.9 689.2 482.1C689.3 482.4 689.5 482.6 689.7 482.8C689.9 483.1 690.1 483.3 690.3 483.5C690.5 483.7 690.7 483.9 690.9 484.1C691.1 484.3 691.3 484.5 691.5 484.6C691.8 484.8 692 485 692.2 485.1C692.4 485.2 692.6 485.4 692.9 485.5C693.1 485.6 693.3 485.7 693.6 485.8C693.8 485.9 694.1 486 694.2 486"/>
<path class="t" d="M690.2 471.8C690.1 471.9 690 472.1 689.9 472.3C689.8 472.5 689.7 472.7 689.7 472.9C689.6 473.1 689.5 473.3 689.5 473.5C689.4 473.7 689.4 473.9 689.4 474.2C689.4 474.4 689.4 474.6 689.4 474.9C689.4 475.1 689.4 475.3 689.4 475.6C689.4 475.8 689.4 476.1 689.5 476.3C689.5 476.6 689.6 476.8 689.6 477.1C689.7 477.3 689.8 477.6 689.9 477.8C689.9 478.1 690 478.3 690.1 478.6C690.2 478.8 690.3 479.1 690.5 479.3C690.6 479.6 690.7 479.8 690.9 480C691 480.3 691.1 480.5 691.3 480.7C691.5 480.9 691.6 481.1 691.8 481.3C691.9 481.6 692.1 481.7 692.3 481.9C692.5 482.1 692.7 482.3 692.9 482.5C693 482.6 693.2 482.8 693.4 482.9C693.6 483.1 693.8 483.2 694 483.3C694.2 483.5 694.4 483.6 694.6 483.7C694.8 483.8 695 483.9 695.2 483.9C695.4 484 695.7 484.1 695.8 484.1"/>
</g>
<path class="t" d="M593.7 492.5 L697.5 432.5"/>
<path class="t" d="M593.7 536.2 L691.7 479"/>
<g id="fan">
<path class="w" d="M330 452C330 439.9 334.6 450.2 340 447.5C345.4 444.8 354.6 439.3 362.5 436C370.4 432.7 380 429.6 387.5 427.5C395 425.4 400.4 423.5 407.5 423.7C414.6 423.9 422.9 426.6 430 428.7C437.1 430.8 442.5 431.6 450 436C457.5 440.4 467.5 448.5 475 455C482.5 461.5 489.6 468.3 495 475C500.4 481.7 505.8 484.2 507.5 495C509.2 505.8 519.6 529.2 505 540C490.4 550.8 447.5 563.3 420 560C392.5 556.7 355 538 340 520C325 502 330 464.1 330 452Z"/>
<path class="l" d="M330 452C331.7 451.2 334.6 450.2 340 447.5C345.4 444.8 354.6 439.3 362.5 436C370.4 432.7 380 429.6 387.5 427.5C395 425.4 400.4 423.5 407.5 423.7C414.6 423.9 422.9 426.6 430 428.7C437.1 430.8 442.5 431.6 450 436C457.5 440.4 467.5 448.5 475 455C482.5 461.5 489.6 468.3 495 475C500.4 481.7 505.4 491.7 507.5 495"/>
<path class="t" d="M430 432C433.3 433.2 442.8 435.2 450 439.5C457.2 443.8 466 451.2 473 457.5C480 463.8 486.8 470.6 492 477C497.2 483.4 502 492.8 504 496"/>
<path class="lw" d="M455 762.5C452.2 767.5 459.4 772.7 463 780C466.6 787.3 472.7 797.2 476.4 806.4C480.1 815.5 483.5 824.6 485.1 834.9C486.7 845.1 486.9 857.6 486.2 867.9C485.5 878.1 483.4 888 480.8 896.4C478.2 904.8 473.1 912.2 470.9 918.4C468.7 924.6 467.1 928.3 467.6 933.8C468.2 939.3 470.9 947 474.2 951.4C477.5 955.8 480.4 960.1 487.3 960.1C494.2 960.1 505.6 955 515.9 951.4C526.2 947.8 537.9 943.3 548.9 938.2C559.9 933.1 571.2 927.2 581.8 920.6C592.4 914 606.4 904.5 612.6 898.6C618.8 892.7 617.4 892.4 619.2 885.4C621 878.4 622.6 864.2 623.5 856.9C624.4 849.6 625.4 846.3 624.7 841.5C624 836.7 621.2 832.5 619.2 828.3C617.2 824.1 615.8 822.6 612.6 816.2C609.4 809.8 608.8 802.7 600 790C591.2 777.3 571.7 751 560 740C548.3 729 543.3 722.3 530 724C516.7 725.7 492.5 743.6 480 750C467.5 756.4 457.8 757.5 455 762.5Z"/>
<path class="w" d="M556 609.5C562 604.4 567 606.9 576 609.5C585 612.1 598.5 619.1 610 625C621.5 630.9 635 638.8 645 645C655 651.2 664.6 657.5 670 662.5C675.4 667.5 675 670.4 677.5 675C680 679.6 683.3 686.2 685 690C686.7 693.8 687.5 695.7 687.5 697.5C687.5 699.3 687.9 697.2 685 701C682.1 704.8 675.4 711.8 670 720C664.6 728.2 657.5 740 652.5 750C647.5 760 643.8 771.2 640 780C636.2 788.8 633 797.5 630 803C627 808.5 625 811 622 813C619 815 615.2 816 612 815C608.8 814 605.8 811.2 603 807C600.2 802.8 598.4 797 595 790C591.6 783 587.5 772.5 582.5 765C577.5 757.5 571.2 750.4 565 745C558.8 739.6 550.8 736 545 732.5C539.2 729 536.2 727.5 530 723.7C523.8 720 509.2 717.3 507.5 710C505.8 702.7 514.6 691.7 520 680C525.4 668.3 534 651.8 540 640C546 628.2 550 614.6 556 609.5Z"/>
<path class="l" d="M556 609.5C559.3 609.5 567 606.9 576 609.5C585 612.1 598.5 619.1 610 625C621.5 630.9 635 638.8 645 645C655 651.2 664.6 657.5 670 662.5C675.4 667.5 675 670.4 677.5 675C680 679.6 683.3 686.2 685 690C686.7 693.8 687.5 695.7 687.5 697.5C687.5 699.3 687.9 697.2 685 701C682.1 704.8 675.4 711.8 670 720C664.6 728.2 657.5 740 652.5 750C647.5 760 643.8 771.2 640 780C636.2 788.8 633 797.5 630 803C627 808.5 625 811 622 813C619 815 615.2 816 612 815C608.8 814 605.8 811.2 603 807C600.2 802.8 598.4 797 595 790C591.6 783 587.5 772.5 582.5 765C577.5 757.5 571.2 750.4 565 745C558.8 739.6 550.8 736 545 732.5C539.2 729 536.2 727.5 530 723.7C523.8 720 511.2 712.3 507.5 710"/>
<path class="t" d="M684 703C681.5 706.3 674.5 714.7 669 723C663.5 731.3 656.2 743 651 753C645.8 763 641.8 774.2 638 783C634.2 791.8 631.2 800.7 628 806C624.8 811.3 620.5 813.5 619 815"/>
<path class="d" d="M557.5 608.7 L507.5 705"/>
<path class="t" d="M550 581 L557.5 608.7"/>
<path class="t" d="M555 580 L562.5 607.5"/>
<path class="w" d="M507.5 492.5C510.8 486.4 514.2 482.9 520 478.7C525.8 474.5 535.4 471 542.5 467.5C549.6 464 556.2 461.1 562.5 457.5C568.8 453.9 575.8 448.1 580 446.2C584.2 444.3 585 445.2 587.5 446C590 446.8 593.3 449.3 595 451.2C596.7 453.1 597.3 454.4 597.5 457.5C597.7 460.6 596.8 463.8 596.2 470C595.6 476.2 594.3 484.6 593.7 495C593.1 505.4 592.5 521.7 592.5 532.5C592.5 543.3 594.1 552.5 593.7 560C593.3 567.5 592.3 573.1 590 577.5C587.7 581.9 582.9 584.3 580 586.2C577.1 588.1 575 588.9 572.5 588.7C570 588.5 567.9 586.5 565 585C562.1 583.5 558.8 581 555 580C551.2 579 547.5 577.9 542.5 578.7C537.5 579.5 531.2 582.3 525 585C518.8 587.7 510.4 592.5 505 595C499.6 597.5 494.6 604.2 492.5 600C490.4 595.8 492.1 580 492.5 570C492.9 560 493.8 549.2 495 540C496.2 530.8 497.9 522.9 500 515C502.1 507.1 504.2 498.6 507.5 492.5Z"/>
<path class="l" d="M507.5 492.5C509.6 490.2 514.2 482.9 520 478.7C525.8 474.5 535.4 471 542.5 467.5C549.6 464 556.2 461.1 562.5 457.5C568.8 453.9 575.8 448.1 580 446.2C584.2 444.3 585 445.2 587.5 446C590 446.8 593.3 449.3 595 451.2C596.7 453.1 597.3 454.4 597.5 457.5C597.7 460.6 596.8 463.8 596.2 470C595.6 476.2 594.3 484.6 593.7 495C593.1 505.4 592.5 521.7 592.5 532.5C592.5 543.3 594.1 552.5 593.7 560C593.3 567.5 592.3 573.1 590 577.5C587.7 581.9 582.9 584.3 580 586.2C577.1 588.1 575 588.9 572.5 588.7C570 588.5 567.9 586.5 565 585C562.1 583.5 558.8 581 555 580C551.2 579 547.5 577.9 542.5 578.7C537.5 579.5 531.2 582.3 525 585C518.8 587.7 510.4 592.5 505 595C499.6 597.5 494.6 599.2 492.5 600"/>
<path class="t" d="M492.5 600C492.5 595 492.1 580 492.5 570C492.9 560 493.8 549.2 495 540C496.2 530.8 497.9 522.9 500 515C502.1 507.1 506.2 496.2 507.5 492.5"/>
<path class="t" d="M593 462C592.7 467.5 591.5 483.3 591 495C590.5 506.7 590 521.2 590 532C590 542.8 591.5 552.7 591 560C590.5 567.3 589.2 572 587 576C584.8 580 579.5 582.7 578 584"/>
<path class="lw" d="M415 292C413.8 292.2 411.2 292 410 295C408.8 298 407.9 301.7 407.5 310C407.1 318.3 407.5 332.9 407.5 345C407.5 357.1 407.4 369.6 407.5 382.5C407.6 395.4 407.2 410 408 422.5C408.8 435 409.9 445 412.5 457.5C415.1 470 421.6 489.4 423.7 497.5C425.8 505.6 423.8 504.6 425 506C426.2 507.4 430.2 507.4 431 506C431.8 504.6 430.6 505.2 430 497.5C429.4 489.8 428.1 472.9 427.5 460C426.9 447.1 425.8 428.8 426.2 420C426.6 411.2 428.1 411.2 430 407.5C431.9 403.8 435.2 400.2 437.5 397.5C439.8 394.8 442.4 394.1 443.7 391.2C444.9 388.3 445.4 385.2 445 380C444.6 374.8 443.3 367.1 441.2 360C439.1 352.9 435.6 345.4 432.5 337.5C429.4 329.6 425 319.8 422.5 312.5C420 305.2 418.8 297.1 417.5 293.7C416.2 290.3 416.2 291.8 415 292Z"/>
<path class="t" d="M415 296C415.7 298.8 416.7 306 419 313C421.3 320 425.8 330 429 338C432.2 346 435.9 354 438 361C440.1 368 441.2 375.2 441.5 380C441.8 384.8 441.2 387.2 440 390C438.8 392.8 436.2 394.3 434 397C431.8 399.7 428.8 402.2 427 406C425.2 409.8 423.4 411 423 420C422.6 429 424 447.3 424.5 460C425 472.7 425.8 490 426 496"/>
<path class="lw" d="M346 470C347.7 467.9 343.9 462.5 341.2 457.5C338.5 452.5 334.8 447.9 330 440C325.2 432.1 318.3 420.4 312.5 410C306.7 399.6 300 387.5 295 377.5C290 367.5 285.4 357.1 282.5 350C279.6 342.9 279.6 340.4 277.5 335C275.4 329.6 273.8 324.6 270 317.5C266.2 310.4 259.2 298.3 255 292.5C250.8 286.7 247.7 284.4 245 282.5C242.3 280.6 240.2 280.8 238.7 281.2C237.2 281.6 236.4 281.9 236.2 285C236 288.1 236 294.2 237.5 300C239 305.8 240.8 311.7 245 320C249.2 328.3 255.8 338.3 262.5 350C269.2 361.7 277.5 377.5 285 390C292.5 402.5 300.8 414.2 307.5 425C314.2 435.8 321.1 447.5 325 455C328.9 462.5 327.5 467.5 331 470C334.5 472.5 344.3 472.1 346 470Z"/>
<path class="t" d="M243 285C244.5 286.7 248.2 289.3 252 295C255.8 300.7 262.3 312 266 319C269.7 326 271.8 331.7 274 337C276.2 342.3 276 344 279 351C282 358 287 369 292 379C297 389 303.2 400.7 309 411C314.8 421.3 322.2 433.2 327 441C331.8 448.8 336.2 455.2 338 458"/>
<path class="lw" d="M292 518C290.3 512.2 284.1 510.5 275 505C265.9 499.5 250 492.1 237.5 485C225 477.9 210.8 470 200 462.5C189.2 455 180 446.7 172.5 440C165 433.3 160.8 427.9 155 422.5C149.2 417.1 142.7 411.1 137.5 407.5C132.3 403.9 127 402 123.7 401.2C120.4 400.4 118.7 401.7 117.5 402.5C116.3 403.3 116.5 404.8 116.5 406C116.5 407.2 114.8 406 117.5 410C120.2 414 127.1 423.8 132.5 430C137.9 436.2 142.9 440.8 150 447.5C157.1 454.2 166.7 463.8 175 470C183.3 476.2 191.7 480 200 485C208.3 490 215.8 494.2 225 500C234.2 505.8 245 513.3 255 520C265 526.7 278.8 540.3 285 540C291.2 539.7 293.7 523.8 292 518Z"/>
<path class="t" d="M124 404.5C126.3 405.8 133.2 408.2 138 412C142.8 415.8 150.5 424.5 153 427"/>
<path class="t" d="M172 444C176.7 447.7 189.2 458.6 200 466C210.8 473.4 224.5 481.5 237 488.5C249.5 495.5 268.7 504.8 275 508"/>
<path class="lw" d="M296 618C290.7 613.6 287.8 621.6 283 623.5C278.2 625.4 273.7 627.4 267.3 629.4C260.9 631.4 253.6 633.8 244.9 635.4C236.2 637 223.7 638.6 214.9 638.7C206.2 638.8 199.9 636.4 192.4 636.2C184.9 636 175.5 636.6 170 637.7C164.5 638.8 161.4 640.8 159.5 642.9C157.6 645 157.4 647.6 158.7 650.4C159.9 653.1 161.4 655.1 167 659.4C172.6 663.6 183.2 670.4 192.4 675.9C201.6 681.4 211.2 687.4 222.4 692.4C233.7 697.4 249.9 703.4 259.9 705.8C269.9 708.2 273.6 707.2 282.3 706.6C291 706 304.3 704 312.3 702.1C320.3 700.2 325.7 697.4 330.3 695.4C334.9 693.4 342.6 697.6 340 690C337.4 682.4 322.3 662 315 650C307.7 638 301.3 622.4 296 618Z"/>
<path class="lw" d="M362 716C355.5 715 361.3 720.5 361.2 728.7C361.1 736.9 362.2 754.8 361.2 765C360.2 775.2 358.5 782.5 355 790C351.5 797.5 346.2 804.2 340 810C333.8 815.8 324.2 821.2 317.5 825C310.8 828.8 304.6 829.6 300 832.5C295.4 835.4 291.9 838.8 290 842.5C288.1 846.2 287.9 850.8 288.7 855C289.5 859.2 291.9 864.6 295 867.5C298.1 870.4 299.6 870.2 307.5 872.5C315.4 874.8 330.4 878.9 342.5 881.2C354.6 883.5 367.5 885.2 380 886.2C392.5 887.2 407.1 887.7 417.5 887.5C427.9 887.3 436.2 886.7 442.5 885C448.8 883.3 450.8 881.2 455 877.5C459.2 873.8 464 867.1 467.5 862.5C471 857.9 474.5 855 476.2 850C477.9 845 477.3 838.8 477.5 832.5C477.7 826.2 478.8 818.8 477.5 812.5C476.2 806.2 472.9 801.2 470 795C467.1 788.8 462.5 780.4 460 775C457.5 769.6 457 766.3 455 762.5C453 758.7 457.2 756.6 448 752C438.8 747.4 414.3 741 400 735C385.7 729 368.5 717 362 716Z"/>
<path class="t" d="M477.5 812C477.7 815.3 478.6 825.7 478.5 832C478.4 838.3 477.2 847 477 850"/>
<ellipse class="lw" cx="391.1" cy="610.2" rx="166.6" ry="96" transform="rotate(59.2 391.1 610.2)"/>
<clipPath id="cpO"><ellipse cx="391.1" cy="610.2" rx="166.6" ry="96" transform="rotate(59.2 391.1 610.2)"/></clipPath>
<clipPath id="cpS"><ellipse cx="394.3" cy="610.2" rx="158.2" ry="90.8" transform="rotate(59.6 394.3 610.2)"/></clipPath>
<clipPath id="cpR"><ellipse cx="406.4" cy="599.8" rx="128.4" ry="66.9" transform="rotate(60 406.4 599.8)"/></clipPath>
<g clip-path="url(#cpO)"><ellipse class="d" cx="392.7" cy="610.2" rx="162.4" ry="93.4" transform="rotate(59.4 392.7 610.2)"/><ellipse class="t" cx="394.3" cy="610.2" rx="158.2" ry="90.8" transform="rotate(59.6 394.3 610.2)"/></g>
<g clip-path="url(#cpS)">
<path class="lw" d="M306.5 487 L382.4 498.1 L383.2 492.4 L307.4 481.3Z"/>
<path class="d" d="M341.1 489.1 L363 482.2"/>
<path class="t" d="M363 482.2 L383.1 493.3"/>
<path class="lw" d="M291.7 509.6 L368.5 517.6 L369.1 511.8 L292.3 503.8Z"/>
<path class="d" d="M326.6 510.3 L348.4 502.5"/>
<path class="t" d="M348.4 502.5 L369 512.7"/>
<path class="lw" d="M285.3 540.6 L361.3 542.4 L361.4 536.6 L285.5 534.8Z"/>
<path class="d" d="M319.6 538.5 L340.3 529"/>
<path class="t" d="M340.3 529 L361.4 537.5"/>
<path class="lw" d="M287.9 577.5 L361.2 570.4 L360.7 564.6 L287.3 571.7Z"/>
<path class="d" d="M320.6 571.4 L339.4 559.5"/>
<path class="t" d="M339.4 559.5 L360.8 565.5"/>
<path class="lw" d="M299.3 617.2 L368.4 599.3 L367 593.7 L297.8 611.6Z"/>
<path class="d" d="M329.7 606.3 L345.8 591.8"/>
<path class="t" d="M345.8 591.8 L367.2 594.6"/>
<path class="lw" d="M318.5 656.2 L380.6 623.8 L378 619 L316 651.4Z"/>
<path class="d" d="M345.2 639.2 L357.3 621.6"/>
<path class="t" d="M357.3 621.6 L378.4 619.6"/>
<path class="lw" d="M344 691.6 L395.6 643.6 L392.2 639.9 L340.5 687.9Z"/>
<path class="d" d="M365.5 668.1 L372.6 647.8"/>
<path class="t" d="M372.6 647.8 L392.5 640.3"/>
<path class="lw" d="M373.5 720.5 L413.5 660.1 L409.5 657.4 L369.5 717.8Z"/>
<path class="t" d="M389.5 692 L406.9 680.1"/>
<path class="t" d="M406.9 680.1 L413.1 659.8"/>
<path class="lw" d="M404.8 740.6 L433.3 672.4 L428.8 670.5 L400.3 738.8Z"/>
<path class="t" d="M415.4 709 L430.4 693.6"/>
<path class="t" d="M430.4 693.6 L432.9 672.2"/>
<path class="lw" d="M435.2 750.5 L458.1 680.8 L453.6 679.3 L430.7 749Z"/>
<path class="t" d="M443.2 718.4 L457 702.1"/>
<path class="t" d="M457 702.1 L457.7 680.7"/>
<path class="lw" d="M462.5 749.1 L482.7 681.4 L478.1 680 L457.9 747.7Z"/>
<path class="t" d="M469.3 717.9 L482.4 702"/>
<path class="t" d="M482.4 702 L482.3 681.3"/>
<path class="lw" d="M484.4 736.6 L504.7 673.9 L500.1 672.4 L479.8 735.1Z"/>
<path class="t" d="M491.2 707.6 L504.3 693.2"/>
<path class="t" d="M504.3 693.2 L504.3 673.8"/>
<path class="lw" d="M499.1 713.9 L522.2 658.9 L517.8 657.1 L494.6 712.1Z"/>
<path class="t" d="M507.3 688.3 L520.9 676.5"/>
<path class="t" d="M520.9 676.5 L521.8 658.8"/>
<path class="lw" d="M505.3 683.1 L533.8 637.7 L529.8 635.2 L501.2 680.6Z"/>
<path class="t" d="M516.1 661.4 L530.6 653.4"/>
<path class="t" d="M530.6 653.4 L533.5 637.5"/>
<path class="lw" d="M502.5 646.6 L538.5 612 L535.2 608.6 L499.1 643.1Z"/>
<path class="t" d="M517 629.3 L532.3 625.7"/>
<path class="t" d="M532.3 625.7 L538.2 611.7"/>
<path class="lw" d="M490.8 607.2 L535.8 583.8 L533.6 579.5 L488.6 602.9Z"/>
<path class="t" d="M509.9 594.5 L525.8 595.3"/>
<path class="t" d="M525.8 595.3 L535.6 583.4"/>
<path class="lw" d="M471.3 568 L526.1 555.2 L525 550.5 L470.2 563.3Z"/>
<path class="t" d="M495.4 559.9 L512 564.2"/>
<path class="t" d="M512 564.2 L526 554.8"/>
<path class="lw" d="M445.8 532.3 L510.2 528.6 L510 523.8 L445.5 527.5Z"/>
<path class="t" d="M474.7 528.2 L492.5 535.2"/>
<path class="t" d="M492.5 535.2 L510.2 528.2"/>
<path class="lw" d="M416.3 503 L489.6 506.3 L489.8 501.6 L416.5 498.2Z"/>
<path class="t" d="M449.4 502.1 L468.8 511"/>
<path class="t" d="M468.8 511 L489.6 505.9"/>
<path class="lw" d="M385.1 482.7 L465.7 490.2 L466.1 485.5 L385.5 477.9Z"/>
<path class="t" d="M421.6 483.7 L442.6 493.7"/>
<path class="t" d="M442.6 493.7 L465.7 489.8"/>
<path class="lw" d="M354.7 473 L440.5 481.6 L441 476.8 L355.2 468.2Z"/>
<path class="t" d="M393.6 474.5 L415.9 484.8"/>
<path class="t" d="M415.9 484.8 L440.5 481.2"/>
<path class="lw" d="M327.6 474.6 L416 481.2 L416.4 476.4 L328 469.8Z"/>
<path class="t" d="M367.6 475.1 L390.9 484.9"/>
<path class="t" d="M390.9 484.9 L416.1 480.8"/>
</g>
<g clip-path="url(#cpR)">
<ellipse class="lw" cx="448.6" cy="579.7" rx="102.7" ry="77" transform="rotate(60 448.6 579.7)"/>
<path class="t" d="M438.8 485.2C437.4 485.1 433.1 484.6 430.3 484.5C427.6 484.5 424.8 484.6 422.1 484.9C419.4 485.2 416.8 485.7 414.2 486.4C411.6 487 409.1 487.8 406.7 488.8C404.3 489.8 401.9 490.9 399.6 492.2C397.4 493.5 395.2 495 393.2 496.6C391.1 498.2 389.1 500 387.3 501.9C385.4 503.8 383.7 505.9 382.1 508C380.5 510.2 379 512.5 377.6 515C376.3 517.4 375.1 519.9 374 522.6C372.9 525.2 372 528 371.2 530.8C370.4 533.6 369.7 536.6 369.2 539.6C368.7 542.6 368.3 545.7 368.1 548.8C367.9 551.9 367.8 555.1 367.9 558.3C368 561.5 368.2 564.8 368.6 568.1C369 571.3 369.5 574.6 370.2 577.9C370.9 581.2 371.7 584.5 372.7 587.8C373.7 591.1 374.8 594.4 376 597.6C377.3 600.9 378.6 604.1 380.1 607.2C381.6 610.4 383.3 613.5 385 616.5C386.8 619.5 388.6 622.5 390.6 625.4C392.6 628.2 394.7 631.1 396.9 633.7C399 636.4 401.3 639 403.7 641.5C406 644 408.5 646.4 411 648.6C413.5 650.8 417.5 653.9 418.8 654.9"/>
</g>
<path class="lw" fill-rule="evenodd" d="M473.9 720.2A138.9 76.8 60 1 0 334.9 479.6A138.9 76.8 60 1 0 473.9 720.2ZM470.6 711A128.4 66.9 60 1 0 342.2 488.6A128.4 66.9 60 1 0 470.6 711Z"/>
<ellipse class="l" cx="441.2" cy="581.2" rx="27" ry="19" transform="rotate(73 441.2 581.2)"/>
<path class="t" d="M435.2 556.8C434.9 556.9 434.1 557.2 433.5 557.4C433 557.7 432.4 558 431.9 558.4C431.4 558.7 430.9 559.1 430.5 559.5C430 559.9 429.6 560.4 429.1 560.9C428.7 561.4 428.3 561.9 427.9 562.5C427.6 563.1 427.2 563.7 426.9 564.3C426.6 564.9 426.3 565.6 426.1 566.3C425.8 567 425.6 567.7 425.4 568.4C425.2 569.2 425 569.9 424.9 570.7C424.8 571.5 424.7 572.3 424.6 573.1C424.5 573.9 424.5 574.7 424.5 575.6C424.5 576.4 424.5 577.2 424.6 578.1C424.7 578.9 424.8 579.8 424.9 580.6C425 581.5 425.2 582.4 425.4 583.2C425.6 584 425.8 584.9 426.1 585.7C426.3 586.6 426.6 587.4 426.9 588.2C427.2 589 427.6 589.8 427.9 590.6C428.3 591.4 428.7 592.1 429.1 592.9C429.5 593.6 430 594.3 430.4 595C430.9 595.7 431.4 596.4 431.9 597C432.4 597.6 432.9 598.2 433.5 598.8C434 599.4 434.6 599.9 435.2 600.4C435.7 600.9 436.3 601.4 436.9 601.8C437.5 602.3 438.1 602.6 438.7 603C439.4 603.3 440.3 603.8 440.6 603.9"/>
<ellipse class="l" cx="441.6" cy="533.4" rx="9" ry="6" transform="rotate(73 441.6 533.4)"/>
<path class="t" d="M439 526.2C438.9 526.3 438.7 526.5 438.6 526.7C438.5 526.8 438.4 527 438.3 527.2C438.2 527.4 438.1 527.6 438 527.8C437.9 528 437.8 528.2 437.8 528.5C437.7 528.7 437.7 528.9 437.6 529.2C437.6 529.4 437.5 529.6 437.5 529.9C437.5 530.2 437.5 530.4 437.5 530.7C437.5 530.9 437.5 531.2 437.5 531.5C437.5 531.8 437.5 532 437.6 532.3C437.6 532.6 437.7 532.9 437.7 533.1C437.8 533.4 437.8 533.7 437.9 534C438 534.2 438.1 534.5 438.1 534.8C438.2 535 438.3 535.3 438.5 535.6C438.6 535.8 438.7 536.1 438.8 536.3C438.9 536.6 439.1 536.8 439.2 537C439.3 537.3 439.5 537.5 439.6 537.7C439.8 537.9 439.9 538.1 440.1 538.3C440.3 538.5 440.4 538.7 440.6 538.9C440.8 539.1 441 539.2 441.1 539.4C441.3 539.5 441.5 539.7 441.7 539.8C441.9 539.9 442 540.1 442.2 540.2C442.4 540.3 442.6 540.3 442.8 540.4C443 540.5 443.3 540.6 443.4 540.6"/>
<ellipse class="l" cx="403.5" cy="559.5" rx="9" ry="6" transform="rotate(73 403.5 559.5)"/>
<path class="t" d="M400.9 552.3C400.8 552.4 400.6 552.6 400.5 552.8C400.4 552.9 400.3 553.1 400.2 553.3C400.1 553.5 400 553.7 399.9 553.9C399.8 554.1 399.7 554.3 399.7 554.6C399.6 554.8 399.6 555 399.5 555.3C399.5 555.5 399.4 555.7 399.4 556C399.4 556.3 399.4 556.5 399.4 556.8C399.4 557 399.4 557.3 399.4 557.6C399.4 557.9 399.4 558.1 399.5 558.4C399.5 558.7 399.6 559 399.6 559.2C399.7 559.5 399.7 559.8 399.8 560.1C399.9 560.3 400 560.6 400 560.9C400.1 561.1 400.2 561.4 400.4 561.7C400.5 561.9 400.6 562.2 400.7 562.4C400.8 562.7 401 562.9 401.1 563.1C401.2 563.4 401.4 563.6 401.5 563.8C401.7 564 401.8 564.2 402 564.4C402.2 564.6 402.3 564.8 402.5 565C402.7 565.2 402.9 565.3 403 565.5C403.2 565.6 403.4 565.8 403.6 565.9C403.8 566 403.9 566.2 404.1 566.3C404.3 566.4 404.5 566.4 404.7 566.5C404.9 566.6 405.2 566.7 405.3 566.7"/>
<ellipse class="l" cx="481.2" cy="604.8" rx="9" ry="6" transform="rotate(73 481.2 604.8)"/>
<path class="t" d="M478.6 597.6C478.5 597.7 478.3 597.9 478.2 598.1C478.1 598.2 478 598.4 477.9 598.6C477.8 598.8 477.7 599 477.6 599.2C477.5 599.4 477.4 599.6 477.4 599.9C477.3 600.1 477.3 600.3 477.2 600.6C477.2 600.8 477.1 601 477.1 601.3C477.1 601.6 477.1 601.8 477.1 602.1C477.1 602.3 477.1 602.6 477.1 602.9C477.1 603.2 477.1 603.4 477.2 603.7C477.2 604 477.3 604.3 477.3 604.5C477.4 604.8 477.4 605.1 477.5 605.4C477.6 605.6 477.7 605.9 477.7 606.2C477.8 606.4 477.9 606.7 478.1 607C478.2 607.2 478.3 607.5 478.4 607.7C478.5 608 478.7 608.2 478.8 608.4C478.9 608.7 479.1 608.9 479.2 609.1C479.4 609.3 479.5 609.5 479.7 609.7C479.9 609.9 480 610.1 480.2 610.3C480.4 610.5 480.6 610.6 480.7 610.8C480.9 610.9 481.1 611.1 481.3 611.2C481.5 611.3 481.6 611.5 481.8 611.6C482 611.7 482.2 611.7 482.4 611.8C482.6 611.9 482.9 612 483 612"/>
<ellipse class="l" cx="442.2" cy="625.8" rx="9" ry="6" transform="rotate(73 442.2 625.8)"/>
<path class="t" d="M439.6 618.6C439.5 618.7 439.3 618.9 439.2 619.1C439.1 619.2 439 619.4 438.9 619.6C438.8 619.8 438.7 620 438.6 620.2C438.5 620.4 438.4 620.6 438.4 620.9C438.3 621.1 438.3 621.3 438.2 621.6C438.2 621.8 438.1 622 438.1 622.3C438.1 622.6 438.1 622.8 438.1 623.1C438.1 623.3 438.1 623.6 438.1 623.9C438.1 624.2 438.1 624.4 438.2 624.7C438.2 625 438.3 625.3 438.3 625.5C438.4 625.8 438.4 626.1 438.5 626.4C438.6 626.6 438.7 626.9 438.7 627.2C438.8 627.4 438.9 627.7 439.1 628C439.2 628.2 439.3 628.5 439.4 628.7C439.5 629 439.7 629.2 439.8 629.4C439.9 629.7 440.1 629.9 440.2 630.1C440.4 630.3 440.5 630.5 440.7 630.7C440.9 630.9 441 631.1 441.2 631.3C441.4 631.5 441.6 631.6 441.7 631.8C441.9 631.9 442.1 632.1 442.3 632.2C442.5 632.3 442.6 632.5 442.8 632.6C443 632.7 443.2 632.7 443.4 632.8C443.6 632.9 443.9 633 444 633"/>
<path class="t" d="M422.5 592.5 L447.5 578.7"/>
</g>
<path class="t" d="M252.1 735.4 L442.2 625.8"/>
<g id="b030">
<path class="lw" d="M232.4 735.9C232.3 732.3 239.3 731.3 241.7 730.4C244.1 729.5 244.9 729.5 246.6 730.4C248.3 731.3 251 734 252.1 735.9C253.2 737.8 253.2 740.4 253.2 742C253.2 743.6 253.9 743.6 252.1 745.3C250.3 746.9 245.6 753.5 242.3 751.9C239 750.3 232.5 739.5 232.4 735.9Z"/>
<path class="t" d="M237 733.5C237.5 734.5 239.6 737.3 240 739.5C240.4 741.7 239.6 745.3 239.5 746.5"/>
<path class="t" d="M240.6 732.7C241.1 733.7 243.2 736.6 243.6 738.7C244 740.8 243.2 744.2 243.1 745.3"/>
<path class="t" d="M244.2 731.9C244.7 732.9 246.8 735.9 247.2 737.9C247.6 739.9 246.8 743.1 246.7 744.1"/>
<path class="t" d="M247.8 731.1C248.3 732.1 250.4 735.1 250.8 737.1C251.2 739.1 250.4 741.9 250.3 742.9"/>
<path class="lw" d="M205.4 744.7C204.3 740.1 207.5 743.6 208.7 742.5C209.9 741.4 210.8 739.8 212.6 738.1C214.4 736.5 217.7 733.5 219.7 732.6C221.7 731.7 222.9 732.1 224.7 732.6C226.5 733.1 228.9 734.7 230.7 735.9C232.5 737.1 234.1 738 235.7 739.8C237.3 741.6 239.2 745.1 240.1 746.9C241 748.7 241 748.7 241.2 750.8C241.4 752.9 241.7 757.5 241.2 759.6C240.7 761.7 239.7 762.2 238.4 763.4C237.1 764.6 235.6 766.1 233.5 766.7C231.4 767.4 228.9 766.8 225.8 767.3C222.7 767.8 218.4 773.8 215 770C211.6 766.2 206.5 749.3 205.4 744.7Z"/>
<path class="t" d="M228 734.5C228.9 735.2 232 737.1 233.5 739C235 740.9 236.2 743.5 237 746C237.8 748.5 238.5 751.5 238.5 754C238.5 756.5 237.2 759.8 237 761"/>
<path class="t" d="M225.5 735C226.3 735.8 229.1 737.7 230.5 739.5C231.9 741.3 233.2 743.6 234 746C234.8 748.4 235.2 752.7 235.5 754"/>
<ellipse class="lw" cx="215" cy="756.7" rx="14" ry="10.8" transform="rotate(70 215 756.7)"/>
<path class="t" d="M226 759 L233 756"/>
</g>
<g id="labels">
<text x="972.5" y="79" font-size="22" style="stroke-width:0.25" textLength="61" lengthAdjust="spacingAndGlyphs">Fig.No.</text>
<text x="973" y="105" font-size="23" style="stroke-width:0.25" textLength="74" lengthAdjust="spacingAndGlyphs">0501XX</text>
<text x="769" y="178" font-size="30" textLength="49" lengthAdjust="spacingAndGlyphs">050</text>
<text x="649" y="223" font-size="30" textLength="49" lengthAdjust="spacingAndGlyphs">040</text>
<text x="561" y="259.5" font-size="30" textLength="49" lengthAdjust="spacingAndGlyphs">020</text>
<text x="82.5" y="549.5" font-size="30" textLength="49" lengthAdjust="spacingAndGlyphs">010</text>
<text x="90.5" y="795.5" font-size="30" textLength="49" lengthAdjust="spacingAndGlyphs">030</text>
<text x="1039.5" y="479.5" font-size="30" textLength="49" lengthAdjust="spacingAndGlyphs">060</text>
<text x="1072" y="914" font-size="16" style="stroke:none" textLength="112" lengthAdjust="spacingAndGlyphs">TD110-008-13</text>
</g>
<g class="t">
<path d="M972 109.5H1045.5L1068.8 150.5"/>
<path d="M797.3 184.5L840 262"/>
<path d="M674.3 226.3L696.2 285"/>
<path d="M586.5 265.7L663 370.7"/>
<path d="M136.3 538.8L272.5 560.8"/>
<path d="M142.5 783.8L206.3 760.8"/>
<path d="M1063.2 454.8L1068.4 373.8"/>
</g>
</svg>
</body></html>
